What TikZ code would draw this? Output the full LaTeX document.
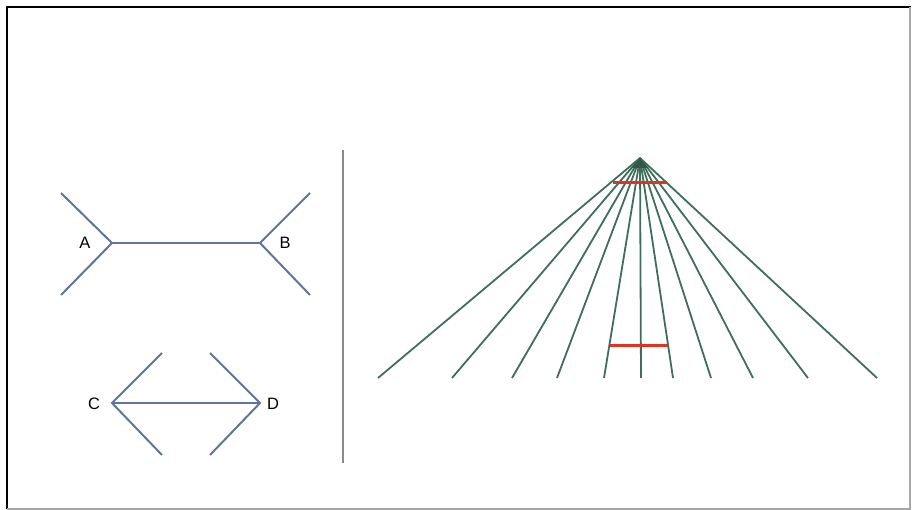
\documentclass[tikz,border=0pt]{standalone}
\usepackage{fontspec}
\setmainfont{Liberation Sans}
\definecolor{figblue}{HTML}{61759A}
\definecolor{fangreen}{HTML}{3F6E5C}
\definecolor{redline}{HTML}{E0341E}
\definecolor{divgray}{HTML}{8A8A8A}
\begin{document}
\begin{tikzpicture}[x=1pt,y=-1pt,
  figline/.style={draw=figblue,line width=2pt},
  fanline/.style={draw=fangreen,line width=1.8pt},
  redseg/.style={draw=redline,line width=3pt},
  lbl/.style={font=\fontsize{16.5}{19}\selectfont,inner sep=0pt}]
\useasboundingbox (0,0) rectangle (912,510);
% frame
\draw[black,line width=2pt] (7,509) -- (7,7) -- (911,7);
\draw[gray!70,line width=1.5pt] (7,509) -- (910,509) -- (910,7);
% figure A-B
\coordinate (A) at (112,243);
\coordinate (B) at (260,243);
\coordinate (a1) at (61,193);
\coordinate (a2) at (61,295);
\coordinate (b1) at (310,193);
\coordinate (b2) at (310,295);
\draw[figline] (a1) -- (A) -- (a2);
\draw[figline] (A) -- (B);
\draw[figline] (b1) -- (B) -- (b2);
\node[lbl] (la) at (85,243) {A};
\node[lbl] (lb) at (285,243) {B};
% figure C-D
\coordinate (C) at (112,403);
\coordinate (D) at (260,403);
\coordinate (c1) at (162,353);
\coordinate (c2) at (162,455);
\coordinate (d1) at (210,353);
\coordinate (d2) at (210,455);
\draw[figline] (c1) -- (C) -- (c2);
\draw[figline] (C) -- (D);
\draw[figline] (d1) -- (D) -- (d2);
\node[lbl] (lc) at (94,404) {C};
\node[lbl] (ld) at (273,404) {D};
% divider
\coordinate (v1) at (343,150);
\coordinate (v2) at (343,463);
\draw[divgray,line width=1.8pt] (v1) -- (v2);
% fan
\coordinate (apex) at (640,158);
\foreach \i/\x in {1/378,2/452,3/512,4/557,5/604,6/641,7/673,8/711,9/753,10/808,11/877}{
  \coordinate (f\i) at (\x,378);
  \draw[fanline] (apex) -- (f\i);
}
\fill[fangreen!80!black] (apex) -- (632,168) -- (648,168) -- cycle;
% red segments
\coordinate (r1) at (613,183);
\coordinate (r2) at (667,183);
\coordinate (r3) at (610,345);
\coordinate (r4) at (668,345);
\draw[redseg] (r1) -- (r2);
\draw[redseg] (r3) -- (r4);
\end{tikzpicture}
\end{document}
